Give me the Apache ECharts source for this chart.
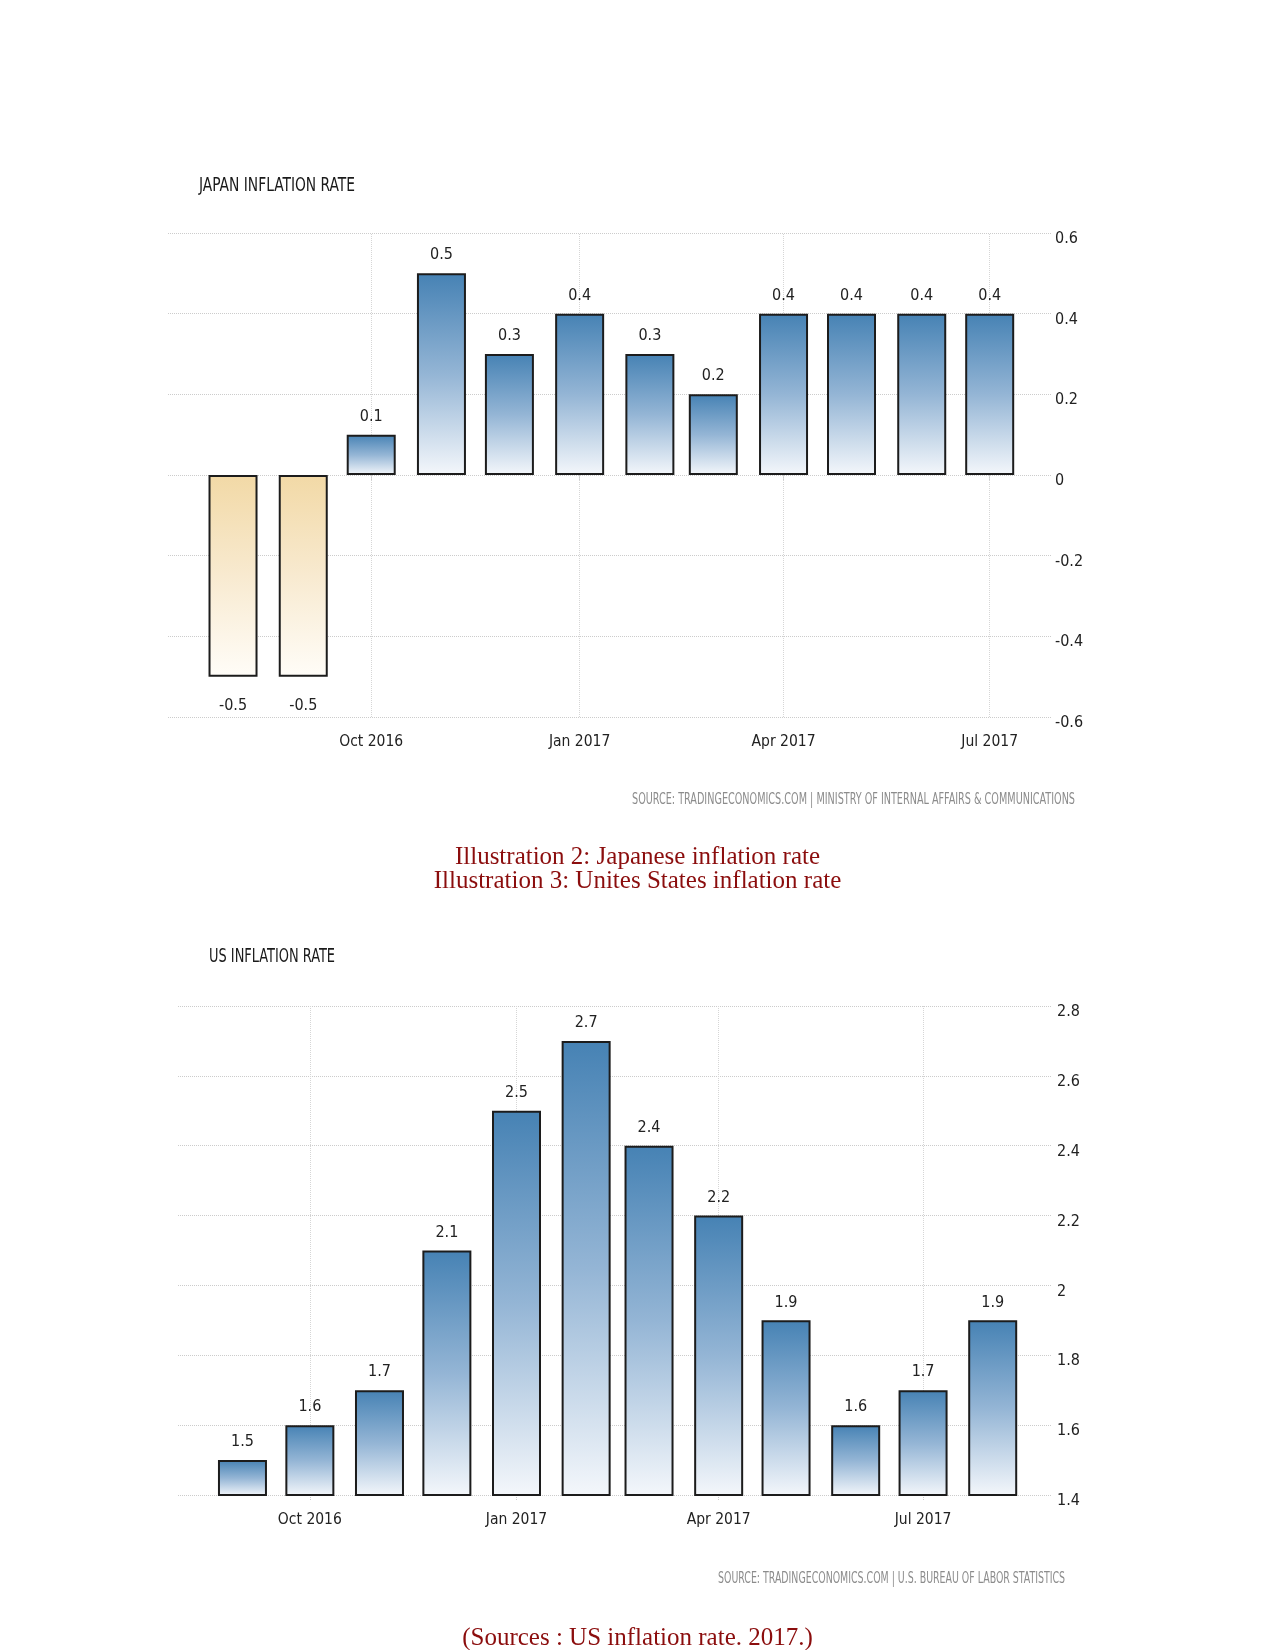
<!DOCTYPE html>
<html>
<head>
<meta charset="utf-8">
<script src="https://cdn.jsdelivr.net/npm/echarts@6/dist/echarts.min.js"></script>
<style>
html,body{margin:0;padding:0;background:#fff;}
#chart{width:1275px;height:1650px;}
</style>
</head>
<body>
<div id="chart"></div>
<script>
// ---- Data ----
const japanMonths = ['2016-08-01','2016-09-01','2016-10-01','2016-11-01','2016-12-01','2017-01-01','2017-02-01','2017-03-01','2017-04-01','2017-05-01','2017-06-01','2017-07-01'];
const japanValues = [-0.5,-0.5,0.1,0.5,0.3,0.4,0.3,0.2,0.4,0.4,0.4,0.4];
const usMonths = ['2016-09-01','2016-10-01','2016-11-01','2016-12-01','2017-01-01','2017-02-01','2017-03-01','2017-04-01','2017-05-01','2017-06-01','2017-07-01','2017-08-01'];
const usValues = [1.5,1.6,1.7,2.1,2.5,2.7,2.4,2.2,1.9,1.6,1.7,1.9];
const tickDates = ['2016-10-01','2017-01-01','2017-04-01','2017-07-01'];
const tickLabels = ['Oct 2016','Jan 2017','Apr 2017','Jul 2017'];
const japanTitle = 'JAPAN INFLATION RATE';
const usTitle = 'US INFLATION RATE';
const japanSource = 'SOURCE: TRADINGECONOMICS.COM | MINISTRY OF INTERNAL AFFAIRS & COMMUNICATIONS';
const usSource = 'SOURCE: TRADINGECONOMICS.COM | U.S. BUREAU OF LABOR STATISTICS';
const caption1 = 'Illustration 2: Japanese inflation rate';
const caption2 = 'Illustration 3: Unites States inflation rate';
const caption3 = '(Sources : US inflation rate. 2017.)';

// ---- helpers ----
const DAY = 86400000;
function ts(s){ const p = s.split('-').map(Number); return Date.UTC(p[0], p[1]-1, p[2]); }
const tickTs = tickDates.map(ts);
const NARROW = '"DejaVu Sans Condensed", "Liberation Sans Narrow", sans-serif';
const measureCtx = document.createElement('canvas').getContext('2d');
function fitText(text, font, target){
  measureCtx.font = font;
  const w = measureCtx.measureText(text).width;
  return target / w;
}
const blueGrad = new echarts.graphic.LinearGradient(0,0,0,1,[
  {offset:0,color:'#4682b4'},{offset:0.5,color:'#94b5d5'},{offset:1,color:'#f4f7fb'}]);
const tanGrad = new echarts.graphic.LinearGradient(0,0,0,1,[
  {offset:0,color:'#f2d9a6'},{offset:0.5,color:'#f8ead0'},{offset:1,color:'#fffdf8'}]);

function barData(months, values){
  return months.map((m,i)=>{
    const v = values[i];
    const item = {value:[ts(m), v]};
    if (v < 0) {
      item.itemStyle = {color: tanGrad};
      item.label = {position:'bottom', distance:21};
    }
    return item;
  });
}

const gridLineColor = '#cccccc';
const labelColor = '#222222';

function xAxisCfg(gridIndex, min, max){
  return {
    type:'value', gridIndex, min, max,
    axisLine:{show:false},
    axisTick:{show:true, customValues: tickTs, length:6, lineStyle:{color:gridLineColor, type:'dotted'}},
    axisLabel:{customValues: tickTs, margin:17, fontSize:15.5, fontFamily:NARROW, color:labelColor,
      formatter:function(v){ const i = tickTs.indexOf(v); return i>=0 ? tickLabels[i] : ''; }},
    splitLine:{show:false}
  };
}
function yAxisCfg(gridIndex, min, max, interval, margin){
  return {
    type:'value', gridIndex, min, max, interval, position:'right',
    axisLine:{show:false}, axisTick:{show:false},
    axisLabel:{margin, fontSize:16, fontFamily:NARROW, color:labelColor, verticalAlign:'top', lineHeight:12},
    splitLine:{show:true, lineStyle:{color:gridLineColor, type:'dotted', width:1}}
  };
}
function seriesCfg(idx, months, values){
  return {
    type:'bar', xAxisIndex:idx, yAxisIndex:idx, z:2,
    barWidth:49,
    data: barData(months, values),
    itemStyle:{color:blueGrad, borderColor:'#1c1c1c', borderWidth:2},
    label:{show:true, position:'top', distance:10, fontSize:16, fontFamily:NARROW, color:'#222',
      formatter:function(p){ return String(p.value[1]); }},
    markLine:{silent:true, symbol:'none', z:1, animation:false,
      label:{show:false}, lineStyle:{type:'dotted', color:'#d6d6d6', width:1},
      data: tickTs.map(t=>({xAxis: t}))}
  };
}

const titleFont = '20px ' + NARROW;
const srcFont = '16px ' + NARROW;
const capFont = '25px "Liberation Serif", "Times New Roman", serif';

const chart = echarts.init(document.getElementById('chart'), null, {renderer:'canvas', width:1275, height:1650});
chart.setOption({
  animation:false,
  backgroundColor:'#ffffff',
  grid:[
    {left:168, right:223, top:233, height:484},
    {left:178, right:223, top:1006, height:489}
  ],
  xAxis:[
    xAxisCfg(0, ts('2016-08-01') - 28.7*DAY, ts('2017-07-01') + 27.5*DAY),
    xAxisCfg(1, ts('2016-09-01') - 28.7*DAY, ts('2017-08-01') + 26.4*DAY)
  ],
  yAxis:[
    yAxisCfg(0, -0.6, 0.6, 0.2, 3),
    yAxisCfg(1, 1.4, 2.8, 0.2, 5)
  ],
  series:[
    seriesCfg(0, japanMonths, japanValues),
    seriesCfg(1, usMonths, usValues)
  ],
  graphic:[
    {type:'text', x:199, y:186, scaleX: fitText(japanTitle, titleFont, 156),
      style:{text:japanTitle, font:titleFont, fill:'#1a1a1a', textAlign:'left', textVerticalAlign:'middle'}},
    {type:'text', x:209, y:957, scaleX: fitText(usTitle, titleFont, 126),
      style:{text:usTitle, font:titleFont, fill:'#1a1a1a', textAlign:'left', textVerticalAlign:'middle'}},
    {type:'text', x:632, y:800, scaleX: fitText(japanSource, srcFont, 443),
      style:{text:japanSource, font:srcFont, fill:'#8c8c8c', textAlign:'left', textVerticalAlign:'middle'}},
    {type:'text', x:718, y:1579, scaleX: fitText(usSource, srcFont, 347),
      style:{text:usSource, font:srcFont, fill:'#8c8c8c', textAlign:'left', textVerticalAlign:'middle'}},
    {type:'text', x:637.5, y:857, style:{text:caption1, font:capFont, fill:'#8b0d0d', textAlign:'center', textVerticalAlign:'middle'}},
    {type:'text', x:637.5, y:881, style:{text:caption2, font:capFont, fill:'#8b0d0d', textAlign:'center', textVerticalAlign:'middle'}},
    {type:'text', x:637.5, y:1638, style:{text:caption3, font:capFont, fill:'#8b0d0d', textAlign:'center', textVerticalAlign:'middle'}}
  ]
});
</script>
</body>
</html>
